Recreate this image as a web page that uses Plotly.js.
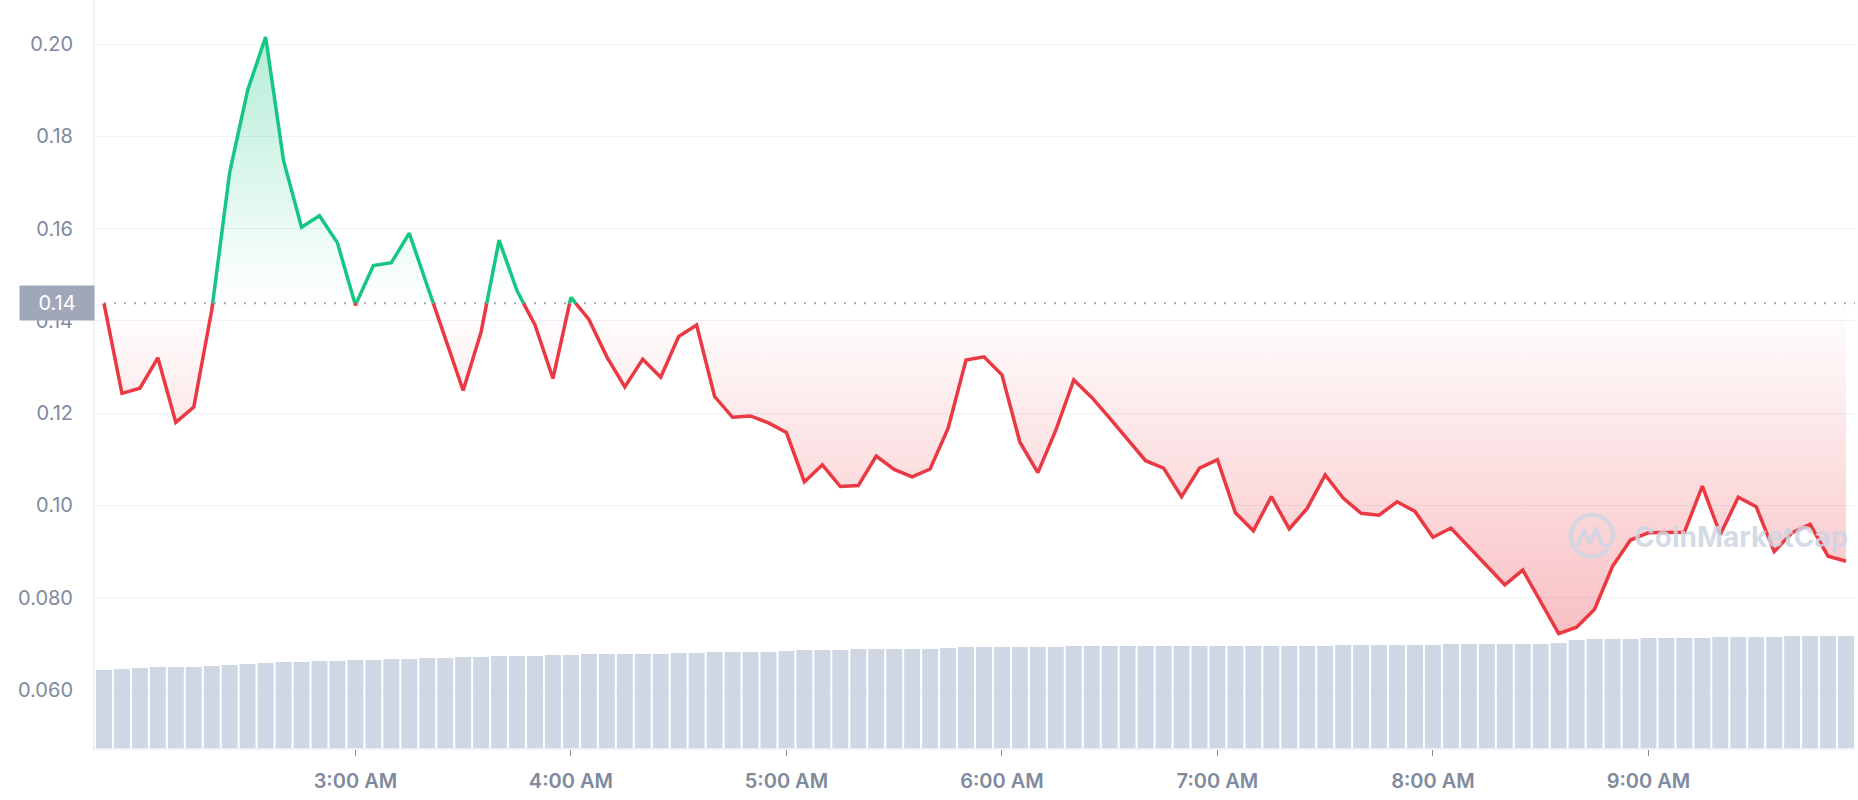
<!DOCTYPE html>
<html>
<head>
<meta charset="utf-8">
<script src="https://cdn.plot.ly/plotly-3.0.1.min.js"></script>
<style>
  html, body { margin: 0; padding: 0; background: #ffffff; }
  #chart { width: 1858px; height: 800px; }
</style>
</head>
<body>
<div id="chart"></div>
<script>
// ---------------- data ----------------
const startTime = '2023-06-01 01:50';
const intervalMinutes = 5;

const prices = [
  0.1438, 0.1243, 0.1254, 0.1320, 0.1180, 0.1213, 0.1423, 0.1722, 0.1900, 0.2015,
  0.1747, 0.1603, 0.1628, 0.1569, 0.1434, 0.1520, 0.1526, 0.1590, 0.1476, 0.1364,
  0.1249, 0.1376, 0.1575, 0.1465, 0.1391, 0.1275, 0.1451, 0.1403, 0.1322, 0.1257,
  0.1317, 0.1278, 0.1366, 0.1391, 0.1236, 0.1191, 0.1194, 0.1179, 0.1158, 0.1051,
  0.1088, 0.1041, 0.1043, 0.1107, 0.1078, 0.1062, 0.1079, 0.1167, 0.1315, 0.1322,
  0.1283, 0.1137, 0.1071, 0.1163, 0.1272, 0.1234, 0.1189, 0.1144, 0.1097, 0.1081,
  0.1019, 0.1081, 0.1099, 0.0984, 0.0945, 0.1019, 0.0949, 0.0994, 0.1066, 0.1016,
  0.0983, 0.0979, 0.1008, 0.0987, 0.0931, 0.0951, 0.0910, 0.0869, 0.0828, 0.0860,
  0.0791, 0.0722, 0.0736, 0.0775, 0.0868, 0.0925, 0.0941, 0.0941, 0.0942, 0.1042,
  0.0937, 0.1018, 0.0997, 0.0900, 0.0941, 0.0959, 0.0890, 0.0879
];

// volume (arbitrary units, millions)
const volumes = [
  7.8, 7.9, 8.0, 8.1, 8.1, 8.1, 8.2, 8.3, 8.4, 8.5,
  8.6, 8.6, 8.7, 8.7, 8.8, 8.8, 8.9, 8.9, 9.0, 9.0,
  9.1, 9.1, 9.2, 9.2, 9.2, 9.3, 9.3, 9.4, 9.4, 9.4,
  9.4, 9.4, 9.5, 9.5, 9.6, 9.6, 9.6, 9.6, 9.7, 9.8,
  9.8, 9.8, 9.9, 9.9, 9.9, 9.9, 9.9, 10.0, 10.1, 10.1,
  10.1, 10.1, 10.1, 10.1, 10.2, 10.2, 10.2, 10.2, 10.2, 10.2,
  10.2, 10.2, 10.2, 10.2, 10.2, 10.2, 10.2, 10.2, 10.2, 10.3,
  10.3, 10.3, 10.3, 10.3, 10.3, 10.4, 10.4, 10.4, 10.4, 10.4,
  10.4, 10.5, 10.8, 10.9, 10.9, 10.9, 11.0, 11.0, 11.0, 11.0,
  11.1, 11.1, 11.1, 11.1, 11.2, 11.2, 11.2, 11.2
];

const xTickTimes = ['2023-06-01 03:00', '2023-06-01 04:00', '2023-06-01 05:00', '2023-06-01 06:00',
                    '2023-06-01 07:00', '2023-06-01 08:00', '2023-06-01 09:00'];
const xTickLabels = ['3:00 AM', '4:00 AM', '5:00 AM', '6:00 AM', '7:00 AM', '8:00 AM', '9:00 AM'];

const yTickValues = [0.06, 0.08, 0.10, 0.12, 0.14, 0.16, 0.18, 0.20];
const yTickLabels = ['0.060', '0.080', '0.10', '0.12', '0.14', '0.16', '0.18', '0.20'];

const watermarkText = 'CoinMarketCap';

// ---------------- helpers ----------------
function toMs(s) {
  const [d, t] = s.split(' ');
  const [Y, M, D] = d.split('-').map(Number);
  const [h, m] = t.split(':').map(Number);
  return Date.UTC(Y, M - 1, D, h, m);
}

const COLORS = {
  up: '#16c784',
  down: '#ea3943',
  bar: '#cfd6e4',
  grid: '#eff2f5',
  text: '#808a9d',
  refBox: '#a1a7bb'
};

const stepMs = intervalMinutes * 60000;
const t0 = toMs(startTime);
const times = prices.map((_, i) => t0 + i * stepMs);
const base = prices[0];

// split the line at the reference price so that it can be coloured above / below
const lx = [], lv = [];
for (let i = 0; i < prices.length; i++) {
  lx.push(times[i]); lv.push(prices[i]);
  if (i < prices.length - 1) {
    const a = prices[i] - base, b = prices[i + 1] - base;
    if (a * b < 0) {
      const f = a / (a - b);
      lx.push(times[i] + f * stepMs);
      lv.push(base);
    }
  }
}
const upLine = lv.map(v => (v >= base ? v : null));
const downLine = lv.map(v => (v <= base ? v : null));
const upFill = lv.map(v => Math.max(v, base));
const downFill = lv.map(v => Math.min(v, base));
const baseArr = lv.map(() => base);

const xRange = [times[0] - stepMs / 2, times[times.length - 1] + stepMs / 2];

const traces = [
  {
    type: 'bar', x: times, y: volumes, xaxis: 'x', yaxis: 'y',
    marker: { color: COLORS.bar, line: { width: 0 } },
    hoverinfo: 'skip'
  },
  {
    type: 'scatter', mode: 'lines', x: lx, y: baseArr, xaxis: 'x', yaxis: 'y2',
    line: { width: 0, color: 'rgba(0,0,0,0)' }, hoverinfo: 'skip'
  },
  {
    type: 'scatter', mode: 'lines', x: lx, y: upFill, xaxis: 'x', yaxis: 'y2',
    line: { width: 0, color: 'rgba(0,0,0,0)' }, fill: 'tonexty',
    fillcolor: 'rgba(22,199,132,0.15)',
    fillgradient: { type: 'vertical', colorscale: [[0, 'rgba(22,199,132,0)'], [1, 'rgba(22,199,132,0.32)']] },
    hoverinfo: 'skip'
  },
  {
    type: 'scatter', mode: 'lines', x: lx, y: baseArr, xaxis: 'x', yaxis: 'y2',
    line: { width: 0, color: 'rgba(0,0,0,0)' }, hoverinfo: 'skip'
  },
  {
    type: 'scatter', mode: 'lines', x: lx, y: downFill, xaxis: 'x', yaxis: 'y2',
    line: { width: 0, color: 'rgba(0,0,0,0)' }, fill: 'tonexty',
    fillcolor: 'rgba(234,57,67,0.15)',
    fillgradient: { type: 'vertical', colorscale: [[0, 'rgba(234,57,67,0.32)'], [1, 'rgba(234,57,67,0)']] },
    hoverinfo: 'skip'
  },
  {
    type: 'scatter', mode: 'lines', x: lx, y: upLine, xaxis: 'x', yaxis: 'y2',
    line: { color: COLORS.up, width: 3.5, shape: 'linear' }, connectgaps: false
  },
  {
    type: 'scatter', mode: 'lines', x: lx, y: downLine, xaxis: 'x', yaxis: 'y2',
    line: { color: COLORS.down, width: 3.5, shape: 'linear' }, connectgaps: false
  }
];

const logoSvg =
  "<svg xmlns='http://www.w3.org/2000/svg' viewBox='0 0 48 48'>" +
  "<g fill='none' stroke='#cfd6e4' stroke-width='4' stroke-linecap='round' stroke-linejoin='round'>" +
  "<path d='M38.8 38.8 A21 21 0 1 1 44.2 29.5'/>" +
  "<path d='M10 33 L16 19 L22 31 L28 17 L33 30 Q35.5 36 41.5 33.5'/>" +
  "</g></svg>";

const layout = {
  width: 1858, height: 800,
  margin: { l: 95, r: 3, t: 0, b: 52, pad: 0 },
  paper_bgcolor: '#ffffff', plot_bgcolor: '#ffffff',
  font: { family: 'Inter, "Noto Sans", sans-serif', color: COLORS.text },
  showlegend: false,
  bargap: 0.11,
  hovermode: false,
  xaxis: {
    type: 'date', range: xRange, anchor: 'y',
    tickmode: 'array', tickvals: xTickTimes, ticktext: xTickLabels,
    ticks: 'outside', ticklen: 6, tickwidth: 1, tickcolor: COLORS.text,
    showline: true, linecolor: COLORS.grid, linewidth: 2,
    showgrid: false, zeroline: false,
    tickfont: { size: 20, weight: 600, color: COLORS.text },
    ticklabelstandoff: 8, fixedrange: true
  },
  yaxis: { range: [0, 74.8], visible: false, fixedrange: true },
  yaxis2: {
    overlaying: 'y', side: 'left', anchor: 'x',
    range: [0.04743, 0.20954],
    tickmode: 'array', tickvals: yTickValues, ticktext: yTickLabels,
    showgrid: true, gridcolor: COLORS.grid, gridwidth: 1,
    showline: true, linecolor: COLORS.grid, linewidth: 2,
    zeroline: false, ticks: '',
    tickfont: { size: 20, color: COLORS.text },
    ticklabelstandoff: 16, fixedrange: true
  },
  shapes: [{
    type: 'line', xref: 'x', yref: 'y2',
    x0: times[0], x1: xRange[1], y0: base, y1: base,
    line: { color: COLORS.refBox, width: 2, dash: '2px,8px' },
    layer: 'below'
  }],
  annotations: [
    {
      xref: 'paper', yref: 'y2', x: 0, y: base, xanchor: 'right', yanchor: 'middle',
      text: base.toFixed(2), showarrow: false, bgcolor: COLORS.refBox,
      width: 74, height: 34, borderpad: 0, align: 'center',
      font: { size: 20, color: '#ffffff' }
    },
    {
      xref: 'paper', yref: 'paper', x: 0.8733, y: 0.282, xanchor: 'left', yanchor: 'middle',
      text: watermarkText, showarrow: false,
      font: { size: 28, weight: 700, color: 'rgba(205,213,227,0.85)' }
    }
  ],
  images: [{
    source: 'data:image/svg+xml;utf8,' + encodeURIComponent(logoSvg),
    xref: 'paper', yref: 'paper', x: 0.8369, y: 0.3159, sizex: 0.0273, sizey: 0.0642,
    xanchor: 'left', yanchor: 'top', sizing: 'stretch', layer: 'above', opacity: 0.9
  }]
};

Plotly.newPlot('chart', traces, layout, { displayModeBar: false, staticPlot: true });
</script>
</body>
</html>
